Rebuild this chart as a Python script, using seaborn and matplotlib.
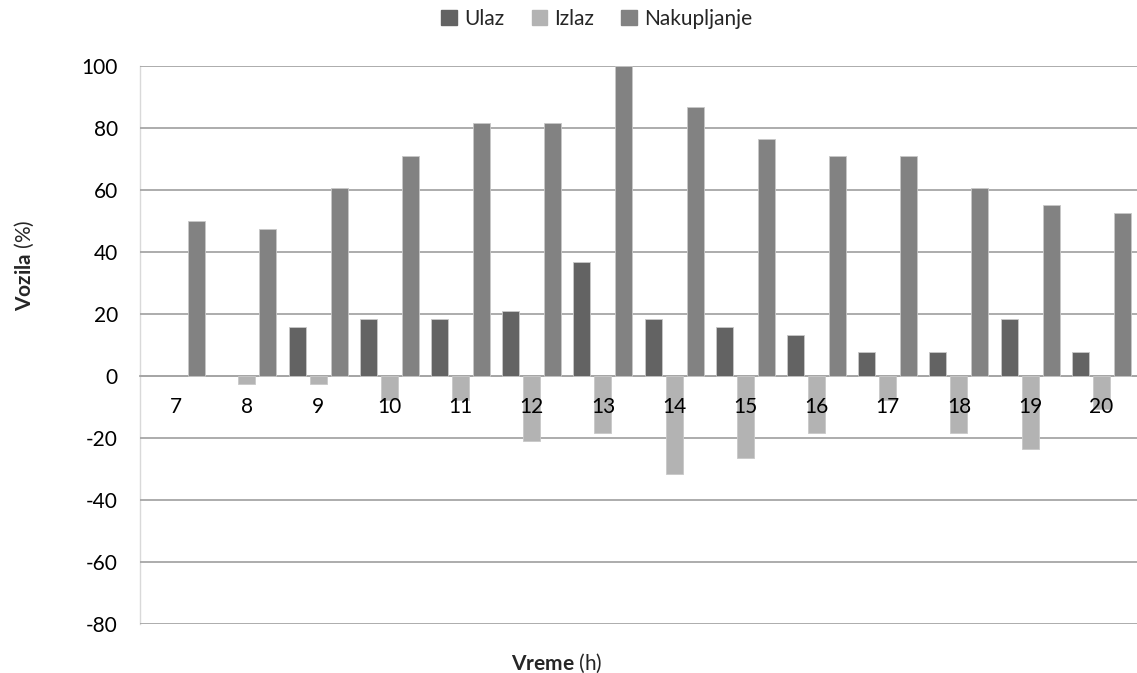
import matplotlib
matplotlib.use("Agg")
import matplotlib.pyplot as plt
import seaborn as sns
import pandas as pd
from matplotlib.patches import Patch

hours = ["7", "8", "9", "10", "11", "12", "13", "14", "15", "16", "17", "18", "19", "20"]
ulaz = [0, 0, 15.8, 18.4, 18.4, 21.1, 36.8, 18.4, 15.8, 13.2, 7.9, 7.9, 18.4, 7.9]
izlaz = [0, -2.6, -2.6, -7.9, -7.9, -21.1, -18.4, -31.6, -26.3, -18.4, -7.9, -18.4, -23.7, -10.5]
nakupljanje = [50, 47.4, 60.5, 71.1, 81.6, 81.6, 100, 86.8, 76.3, 71.1, 71.1, 60.5, 55.3, 52.6]
series = ["Ulaz", "Izlaz", "Nakupljanje"]
colors = ["#636363", "#b3b3b3", "#828282"]

rows = []
for name, vals in zip(series, [ulaz, izlaz, nakupljanje]):
    for h, v in zip(hours, vals):
        rows.append({"h": h, "val": v, "serija": name})
df = pd.DataFrame(rows)

sns.set_theme(style="white")
plt.rcParams["font.family"] = ["Lato", "DejaVu Sans"]
plt.rcParams["mathtext.fontset"] = "custom"
plt.rcParams["mathtext.bf"] = "Lato:bold"
plt.rcParams["mathtext.rm"] = "Lato"
plt.rcParams["axes.unicode_minus"] = False

FS = 15

fig = plt.figure(figsize=(11.37, 6.73), dpi=100)
ax = fig.add_axes([140 / 1137, 49 / 673, 997 / 1137, 558 / 673])

sns.barplot(data=df, x="h", y="val", hue="serija", order=hours, hue_order=series,
            palette=colors, width=0.885, gap=0.19, ax=ax, legend=False,
            edgecolor="#c8c8c8", linewidth=0.6, saturation=1, errorbar=None)
for p in ax.patches:
    if abs(p.get_height()) < 1e-9:
        p.set_linewidth(0)

ax.set_ylim(-80, 100)
ax.set_xlim(-0.5, 13.5)
ax.set_yticks(range(-80, 101, 20))
ax.yaxis.grid(True, color="#a6a6a6", linewidth=1.3)
ax.xaxis.grid(False)
ax.yaxis.set_zorder(0.5)
ax.xaxis.set_zorder(5)

for s in ["top", "right"]:
    ax.spines[s].set_visible(False)
ax.spines["left"].set_color("#d9d9d9")
ax.spines["left"].set_linewidth(1.0)
ax.spines["left"].set_zorder(0.5)
ax.spines["bottom"].set_position(("data", 0))
ax.spines["bottom"].set_color("#a6a6a6")
ax.spines["bottom"].set_linewidth(1.3)
ax.spines["bottom"].set_zorder(0.5)

ax.tick_params(axis="x", length=0, pad=15, labelsize=FS, colors="black")
ax.tick_params(axis="y", length=0, pad=16, labelsize=FS, colors="black")

ax.set_xlabel(r"$\bf{Vreme}$ (h)", fontsize=FS)
ax.set_ylabel(r"$\bf{Vozila}$ (%)", fontsize=FS)
ax.xaxis.set_label_coords(0.418, -0.05)
ax.yaxis.set_label_coords(-0.104, 0.643)

handles = [Patch(facecolor=c, edgecolor=c) for c in colors]
fig.legend(handles, series, loc="center", bbox_to_anchor=(597 / 1137, 1 - 19 / 673),
           ncol=3, frameon=False, fontsize=FS, handlelength=0.75, handleheight=0.75,
           handletextpad=0.35, columnspacing=1.3)

fig.savefig("out.png", dpi=100)
